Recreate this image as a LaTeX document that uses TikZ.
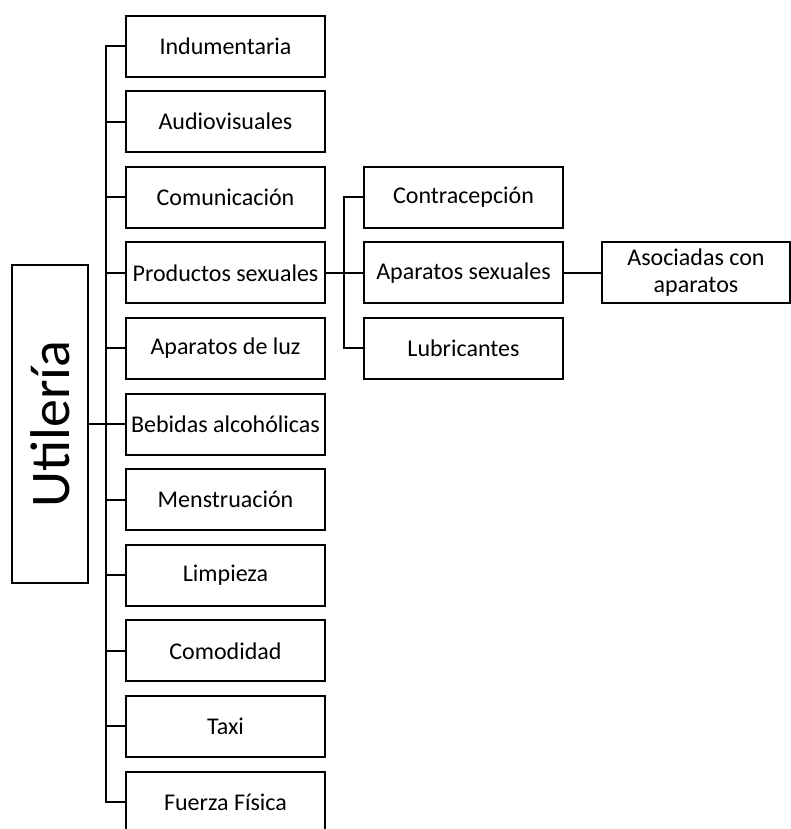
\documentclass[tikz,border=0pt]{standalone}
\usepackage{fontspec}
\setmainfont{Carlito}
\usetikzlibrary{positioning}

\begin{document}
\begin{tikzpicture}[
  x=0.75pt, y=-0.75pt,
  box/.style={draw, line width=1.5pt, minimum width=149.25pt,
              minimum height=45.75pt, align=center, inner sep=0pt,
              font=\fontsize{18}{20}\selectfont},
  conn/.style={line width=1.5pt},
]
\useasboundingbox (0,0) rectangle (791,829);

% ---- Root ----
\node[draw, line width=1.5pt, minimum width=57pt, minimum height=238.5pt,
      inner sep=0pt] (util) at (50,424)
  {\rotatebox{90}{\fontsize{42}{46}\selectfont Utilería}};

% ---- Column 1 ----
\node[box] (ind)   at (225.5, 46)    {Indumentaria};
\node[box] (aud)   at (225.5, 121.6) {Audiovisuales};
\node[box] (com)   at (225.5, 197.2) {Comunicación};
\node[box] (prod)  at (225.5, 272.8) {Productos sexuales};
\node[box] (luz)   at (225.5, 348.4) {Aparatos de luz};
\node[box] (beb)   at (225.5, 424)   {Bebidas alcohólicas};
\node[box] (men)   at (225.5, 499.6) {Menstruación};
\node[box] (lim)   at (225.5, 575.2) {Limpieza};
\node[box] (comod) at (225.5, 650.8) {Comodidad};
\node[box] (taxi)  at (225.5, 726.4) {Taxi};
\node[box] (fuer)  at (225.5, 802)   {Fuerza Física};

\draw[conn] (ind.west) -- ++(-19,0) coordinate (trunk) |- (fuer.west);
\draw[conn] (util.east) -- (util.east -| trunk);
\draw[conn] (aud.west) -- (aud.west -| trunk);
\draw[conn] (com.west) -- (com.west -| trunk);
\draw[conn] (prod.west) -- (prod.west -| trunk);
\draw[conn] (luz.west) -- (luz.west -| trunk);
\draw[conn] (beb.west) -- (beb.west -| trunk);
\draw[conn] (men.west) -- (men.west -| trunk);
\draw[conn] (lim.west) -- (lim.west -| trunk);
\draw[conn] (comod.west) -- (comod.west -| trunk);
\draw[conn] (taxi.west) -- (taxi.west -| trunk);

% ---- Column 2: Productos sexuales ----
\node[box] (con)   at (463.5, 197.2) {Contracepción};
\node[box] (apsex) at (463.5, 272.8) {Aparatos sexuales};
\node[box] (lub)   at (463.5, 348.4) {Lubricantes};

\draw[conn] (con.west) -- ++(-19,0) |- (lub.west);
\draw[conn] (prod.east) -- (apsex.west);

% ---- Column 3 ----
\node[box, minimum width=141pt] (asoc) at (696, 272.8)
  {Asociadas con\\aparatos};

\draw[conn] (apsex.east) -- (asoc.west);

\end{tikzpicture}
\end{document}
